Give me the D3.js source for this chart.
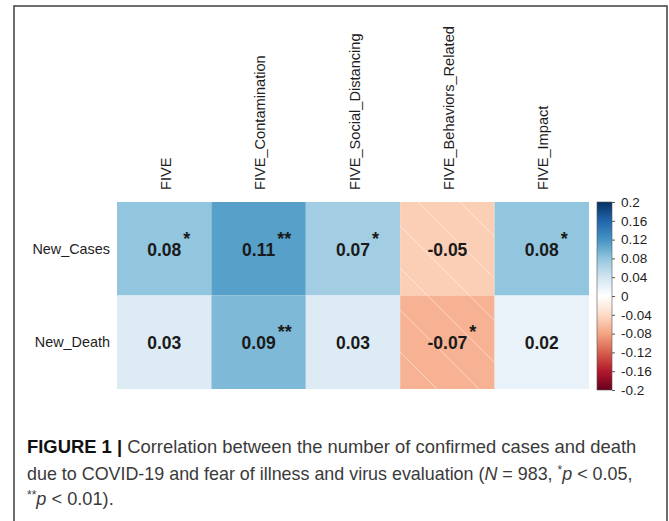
<!DOCTYPE html>
<html><head><meta charset="utf-8">
<script src="https://cdn.jsdelivr.net/npm/d3@7"></script>
<style>body{margin:0;background:#fff}svg{display:block}</style>
</head><body>
<svg id="chart" width="669" height="521"></svg>
<script>
const rows = ["New_Cases", "New_Death"];
const cols = ["FIVE", "FIVE_Contamination", "FIVE_Social_Distancing", "FIVE_Behaviors_Related", "FIVE_Impact"];
const newCases = [0.08, 0.11, 0.07, -0.05, 0.08];
const newDeath = [0.03, 0.09, 0.03, -0.07, 0.02];
const sigCases = ["*", "**", "*", "", "*"];
const sigDeath = ["", "**", "", "*", ""];
const cbTicks = [0.2, 0.16, 0.12, 0.08, 0.04, 0, -0.04, -0.08, -0.12, -0.16, -0.2];
const cbTickLabels = ["0.2", "0.16", "0.12", "0.08", "0.04", "0", "-0.04", "-0.08", "-0.12", "-0.16", "-0.2"];
const paletteStops = ["#67001F", "#B2182B", "#D6604D", "#F4A582", "#FDDBC7", "#FFFFFF", "#D1E5F0", "#92C5DE", "#4393C3", "#2166AC", "#053061"];

const values = [newCases, newDeath];
const sigs = [sigCases, sigDeath];
const cells = [];
rows.forEach((r, i) => cols.forEach((c, j) => cells.push({row: r, col: c, v: values[i][j], s: sigs[i][j]})));

const svg = d3.select("#chart");
const font = "'Liberation Sans', Arial, sans-serif";

// outer frame
svg.append("rect").attr("x", 14).attr("y", 6).attr("width", 653).attr("height", 540)
  .attr("fill", "none").attr("stroke", "#4a4a4a").attr("stroke-width", 1.6);

const x = d3.scaleBand().domain(cols).range([117, 589]);
const y = d3.scaleBand().domain(rows).range([202, 389]);
const color = d3.scaleLinear()
  .domain(d3.range(paletteStops.length).map(i => -0.2 + i * 0.4 / (paletteStops.length - 1)))
  .range(paletteStops).interpolate(d3.interpolateRgb);

const defs = svg.append("defs");
const pat = defs.append("pattern").attr("id", "hatch").attr("patternUnits", "userSpaceOnUse")
  .attr("width", 42).attr("height", 42).attr("x", 6).attr("y", 0);
pat.append("line").attr("x1", 0).attr("y1", 0).attr("x2", 42).attr("y2", 42)
  .attr("stroke", "#ffffff").attr("stroke-opacity", 0.45).attr("stroke-width", 1);

// cells
svg.append("g").selectAll("rect").data(cells).join("rect")
  .attr("x", d => x(d.col)).attr("y", d => y(d.row))
  .attr("width", x.bandwidth()).attr("height", y.bandwidth())
  .attr("fill", d => color(d.v));
svg.append("g").selectAll("rect").data(cells.filter(d => d.v < 0)).join("rect")
  .attr("x", d => x(d.col)).attr("y", d => y(d.row))
  .attr("width", x.bandwidth()).attr("height", y.bandwidth())
  .attr("fill", "url(#hatch)");

// values
const lab = svg.append("g").selectAll("g").data(cells).join("g");
lab.append("text")
  .attr("class", "val")
  .attr("x", d => x(d.col) + x.bandwidth() / 2)
  .attr("y", d => y(d.row) + y.bandwidth() / 2 + 7)
  .attr("text-anchor", "middle")
  .attr("font-family", font).attr("font-weight", "bold").attr("font-size", 17.5)
  .attr("fill", "#1a1a1a")
  .text(d => d.v.toFixed(2));
lab.each(function(d) {
  const g = d3.select(this);
  const w = g.select("text.val").node().getComputedTextLength();
  if (d.s) {
    g.append("text")
      .attr("x", x(d.col) + x.bandwidth() / 2 + w / 2 + 2)
      .attr("y", y(d.row) + y.bandwidth() / 2 - 4)
      .attr("font-family", font).attr("font-weight", "bold").attr("font-size", 18)
      .attr("fill", "#1a1a1a")
      .text(d.s);
  }
});

// column labels
svg.append("g").selectAll("text").data(cols).join("text")
  .attr("transform", d => `translate(${x(d) + x.bandwidth() / 2 + 1.5},190) rotate(-90)`)
  .attr("dy", "0.35em")
  .attr("font-family", font).attr("font-size", 14.6).attr("fill", "#1e1e1e")
  .text(d => d);

// row labels
svg.append("g").selectAll("text").data(rows).join("text")
  .attr("x", 110).attr("y", d => y(d) + y.bandwidth() / 2)
  .attr("dy", "0.35em").attr("text-anchor", "end")
  .attr("font-family", font).attr("font-size", 14.4).attr("fill", "#1e1e1e")
  .text(d => d);

// colorbar
const cbX = 597, cbW = 15;
const yc = d3.scaleLinear().domain([-0.2, 0.2]).range([390, 202]);
const grad = defs.append("linearGradient").attr("id", "cbgrad")
  .attr("x1", 0).attr("y1", 1).attr("x2", 0).attr("y2", 0);
paletteStops.forEach((c, i) => grad.append("stop")
  .attr("offset", i / (paletteStops.length - 1)).attr("stop-color", c));
svg.append("rect").attr("x", cbX).attr("y", yc(0.2)).attr("width", cbW)
  .attr("height", yc(-0.2) - yc(0.2)).attr("fill", "url(#cbgrad)")
  .attr("stroke", "#555").attr("stroke-width", 0.6);
const cbAxis = d3.axisRight(yc).tickValues(cbTicks).tickSize(3).tickPadding(6)
  .tickFormat((d, i) => cbTickLabels[i]);
const ag = svg.append("g").attr("transform", `translate(${cbX + cbW},0)`).call(cbAxis);
ag.select(".domain").remove();
ag.selectAll("line").attr("stroke", "#555");
ag.selectAll("text").attr("font-family", font).attr("font-size", 13.5).attr("fill", "#1e1e1e");

// caption
const cap = svg.append("g").attr("font-family", font).attr("fill", "#3a3a3a");
const l1 = cap.append("text").attr("x", 27).attr("y", 453).attr("font-size", 18.4);
l1.append("tspan").attr("font-weight", "bold").attr("fill", "#111").text("FIGURE 1 | ");
l1.append("tspan").text("Correlation between the number of confirmed cases and death");
const l2 = cap.append("text").attr("x", 27).attr("y", 480).attr("font-size", 17.9);
l2.append("tspan").text("due to COVID-19 and fear of illness and virus evaluation (");
l2.append("tspan").attr("font-style", "italic").text("N");
l2.append("tspan").text(" = 983, ");
l2.append("tspan").attr("font-size", 12).attr("dy", -6).text("*");
l2.append("tspan").attr("font-style", "italic").attr("dy", 6).text("p");
l2.append("tspan").text(" < 0.05,");
const l3 = cap.append("text").attr("x", 27).attr("y", 505).attr("font-size", 18.2);
l3.append("tspan").attr("font-size", 12).attr("dy", -6).text("**");
l3.append("tspan").attr("font-style", "italic").attr("dy", 6).text("p");
l3.append("tspan").text(" < 0.01).");
</script>
</body></html>
